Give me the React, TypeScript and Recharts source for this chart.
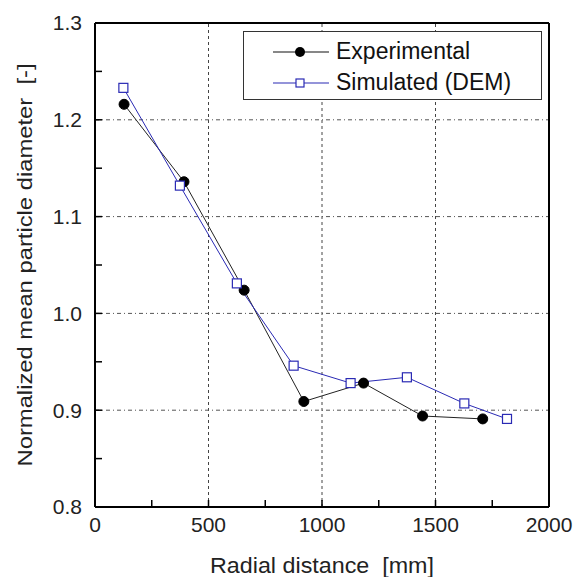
import React from 'react';
import {
  LineChart,
  Line,
  XAxis,
  YAxis,
  ReferenceLine,
  Legend,
} from 'recharts';

const expX = [128, 392, 657, 920, 1183, 1443, 1708];
const expY = [1.216, 1.136, 1.024, 0.909, 0.928, 0.894, 0.891];
const simX = [125, 374, 625, 875, 1126, 1374, 1627, 1815];
const simY = [1.233, 1.132, 1.031, 0.946, 0.928, 0.934, 0.907, 0.891];

const xTicks = [0, 250, 500, 750, 1000, 1250, 1500, 1750, 2000];
const yTicks = [0.8, 0.85, 0.9, 0.95, 1.0, 1.05, 1.1, 1.15, 1.2, 1.25, 1.3];
const xGrid = [500, 1000, 1500];
const yGrid = [0.9, 1.0, 1.1, 1.2];

const expData = expX.map((x, i) => ({ x, y: expY[i] }));
const simData = simX.map((x, i) => ({ x, y: simY[i] }));

const FONT = '"Liberation Sans", Arial, sans-serif';
const BLUE = '#2a2ab4';
const TICK_LEN = 7;

const xLabel = (v: number) => (v % 500 === 0 ? String(v) : '');
const yLabel = (v: number) => (Math.round(v * 100) % 10 === 0 ? v.toFixed(1) : '');

// inward tick + optional label; recharts hands us the label position, we back out the axis line
function Tick(props: any) {
  const { x, y, payload, side, gap = 0 } = props;
  const v = payload.value;
  if (side === 'bottom') {
    const ay = y - gap;
    return (
      <g>
        <line x1={x} y1={ay} x2={x} y2={ay - TICK_LEN} stroke="#000" strokeWidth={1.5} />
        <text x={x} y={y} dy="0.71em" textAnchor="middle" fontSize={21} fill="#222">{xLabel(v)}</text>
      </g>
    );
  }
  if (side === 'top') {
    return <line x1={x} y1={y - gap} x2={x} y2={y - gap + TICK_LEN} stroke="#000" strokeWidth={1.5} />;
  }
  if (side === 'left') {
    const ax = x + gap;
    return (
      <g>
        <line x1={ax} y1={y} x2={ax + TICK_LEN} y2={y} stroke="#000" strokeWidth={1.5} />
        <text x={x} y={y} dy="0.355em" textAnchor="end" fontSize={21} fill="#222">{yLabel(v)}</text>
      </g>
    );
  }
  return <line x1={x - gap} y1={y} x2={x - gap - TICK_LEN} y2={y} stroke="#000" strokeWidth={1.5} />;
}

function Square(props: any) {
  const { cx, cy } = props;
  if (cx == null || cy == null) return null;
  return <rect x={cx - 4.5} y={cy - 4.5} width={9} height={9} fill="#fff" stroke={BLUE} strokeWidth={1.2} />;
}

function YTitle(props: any) {
  const vb = props.viewBox || {};
  const x = vb.x + 24;
  const y = vb.y + vb.height / 2;
  return (
    <text x={x} y={y} transform={`rotate(-90 ${x} ${y})`} textAnchor="middle" dominantBaseline="central"
      fontSize={21} fill="#222" fontFamily={FONT} textLength={403} lengthAdjust="spacingAndGlyphs"
      style={{ whiteSpace: 'pre' }}>
      {'Normalized mean particle diameter  [-]'}
    </text>
  );
}

function XTitle(props: any) {
  const vb = props.viewBox || {};
  const x = vb.x + vb.width / 2;
  const y = vb.y + vb.height - 4;
  return (
    <text x={x} y={y} textAnchor="middle" fontSize={22} fill="#222" fontFamily={FONT}
      textLength={224} lengthAdjust="spacingAndGlyphs" style={{ whiteSpace: 'pre' }}>
      {'Radial distance  [mm]'}
    </text>
  );
}

function LegendBox() {
  const row = (label: string, color: string, marker: React.ReactNode) => (
    <div style={{ display: 'flex', alignItems: 'center', height: 31 }}>
      <svg width={58} height={14} style={{ marginLeft: 29, marginRight: 5 }}>
        <line x1={0} y1={7} x2={56} y2={7} stroke={color} strokeWidth={1.2} />
        {marker}
      </svg>
      <span style={{ fontSize: 23, color: '#111', whiteSpace: 'pre' }}>{label}</span>
    </div>
  );
  return (
    <div style={{ border: '1.5px solid #333', background: '#fff', width: 299, height: 69, paddingTop: 4, boxSizing: 'border-box', fontFamily: FONT }}>
      {row('Experimental', '#111', <circle cx={27} cy={7} r={5} fill="#000" />)}
      {row('Simulated (DEM)', BLUE, <rect x={23} y={3} width={8} height={8} fill="#fff" stroke={BLUE} strokeWidth={1.2} />)}
    </div>
  );
}

export default function App() {
  return (
    <div style={{ position: 'absolute', left: 0, top: 0, background: '#fff' }}>
      <LineChart width={575} height={577} margin={{ top: 21, right: 24, bottom: 0, left: 0 }} style={{ fontFamily: FONT }}>
        <XAxis
          xAxisId="b"
          type="number"
          dataKey="x"
          domain={[0, 2000]}
          ticks={xTicks}
          interval={0}
          height={70}
          tickSize={0}
          tickMargin={10}
          axisLine={{ stroke: '#000', strokeWidth: 2 }}
          tickLine={false}
          tick={<Tick side="bottom" gap={10} />}
          label={{ content: <XTitle /> }}
        />
        <XAxis
          xAxisId="t"
          orientation="top"
          type="number"
          dataKey="x"
          domain={[0, 2000]}
          ticks={xTicks}
          interval={0}
          height={2}
          tickSize={0}
          tickMargin={0}
          axisLine={{ stroke: '#000', strokeWidth: 2 }}
          tickLine={false}
          tick={<Tick side="top" />}
        />
        <YAxis
          yAxisId="l"
          type="number"
          domain={[0.8, 1.3]}
          ticks={yTicks}
          interval={0}
          width={95}
          tickSize={0}
          tickMargin={13}
          axisLine={{ stroke: '#000', strokeWidth: 2 }}
          tickLine={false}
          tick={<Tick side="left" gap={13} />}
          label={{ content: <YTitle /> }}
        />
        <YAxis
          yAxisId="r"
          orientation="right"
          type="number"
          domain={[0.8, 1.3]}
          ticks={yTicks}
          interval={0}
          width={2}
          tickSize={0}
          tickMargin={0}
          axisLine={{ stroke: '#000', strokeWidth: 2 }}
          tickLine={false}
          tick={<Tick side="right" />}
        />
        {xGrid.map((v) => (
          <ReferenceLine key={'gx' + v} xAxisId="b" yAxisId="l" x={v} stroke="#444" strokeDasharray="3 3" />
        ))}
        {yGrid.map((v) => (
          <ReferenceLine key={'gy' + v} xAxisId="b" yAxisId="l" y={v} stroke="#555" strokeDasharray="4 3 1 3" />
        ))}
        <Legend
          layout="vertical"
          align="center"
          verticalAlign="middle"
          wrapperStyle={{ position: 'absolute', left: 243, top: 31, width: 299 }}
          content={() => <LegendBox />}
        />
        <Line
          xAxisId="b"
          yAxisId="l"
          data={expData}
          dataKey="y"
          name="Experimental"
          stroke="#222"
          strokeWidth={1}
          dot={{ r: 5, fill: '#000', stroke: '#000', strokeWidth: 1 }}
          isAnimationActive={false}
        />
        <Line
          xAxisId="b"
          yAxisId="l"
          data={simData}
          dataKey="y"
          name="Simulated (DEM)"
          stroke={BLUE}
          strokeWidth={1}
          dot={<Square />}
          isAnimationActive={false}
        />
      </LineChart>
    </div>
  );
}
